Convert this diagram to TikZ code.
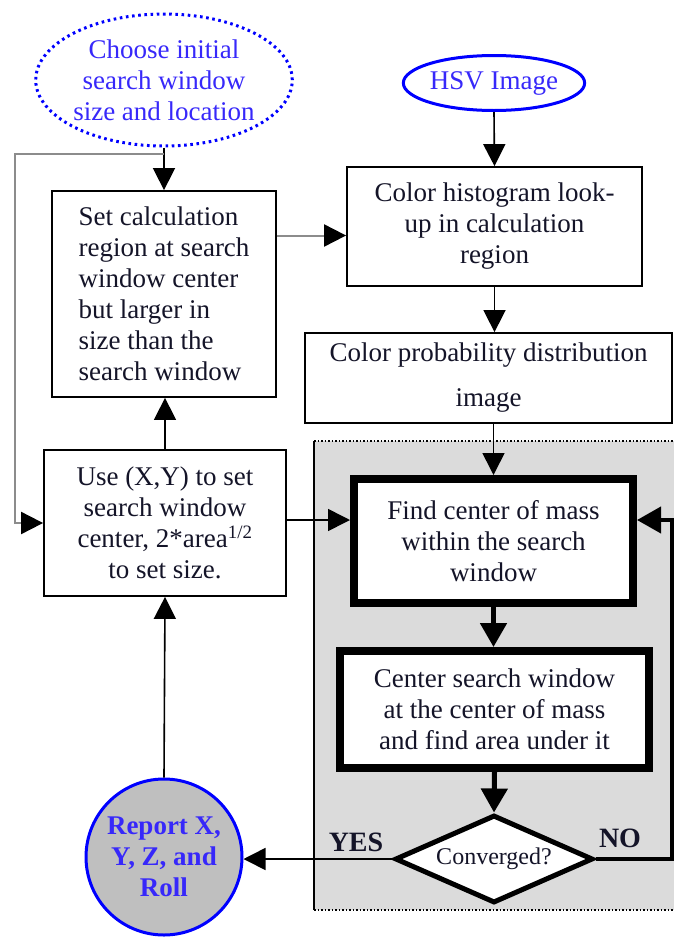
\documentclass[tikz,border=0pt]{standalone}
\usepackage{fontspec}
\setmainfont{Liberation Serif}
\usetikzlibrary{arrows.meta,shapes.geometric}
\definecolor{lblue}{RGB}{55,40,250}
\definecolor{txt}{RGB}{20,20,40}
\tikzset{
  box/.style={draw, line width=1.8pt, rectangle, inner sep=0pt, fill=white, text=txt, align=center},
  heavybox/.style={box, line width=8pt},
  tip/.style={-{Triangle[width=22pt,length=22pt]}},
  bigtip/.style={-{Triangle[width=26pt,length=24pt]}},
  link/.style={line width=1.6pt, tip},
  greylink/.style={draw=black!45, line width=2pt, -{Triangle[width=22pt,length=22pt,color=black]}},
  heavylink/.style={line width=5pt, bigtip},
  lbl/.style={font=\fontsize{28}{31}\selectfont\bfseries, text=txt, inner sep=0pt},
}
\begin{document}
\begin{tikzpicture}[x=1pt,y=-1pt,font=\fontsize{27}{31}\selectfont]
\useasboundingbox (0,0) rectangle (674,937);
\fill[white] (0,0) rectangle (674,937);

% shaded area behind the mean-shift loop
\fill[black!14] (314,441) rectangle (676,910);
\draw[line width=1.2pt] (314,441) -- (314,910);
\draw[line width=1.6pt, dash pattern=on 1.5pt off 2pt] (314,441) -- (676,441);
\draw[line width=1.6pt, dash pattern=on 1.5pt off 2pt] (314,910) -- (676,910);

% nodes
\node[ellipse, draw=blue, line width=3pt, dash pattern=on 2.6pt off 3.6pt,
      minimum width=240pt, minimum height=132pt, inner sep=0pt, text=lblue, align=center]
  (init) at (164,80) {Choose initial\\search window\\size and location};
\node[ellipse, draw=blue, line width=3pt, minimum width=163pt, minimum height=55pt,
      inner sep=0pt, text=lblue] (hsv) at (494,83) {HSV Image};

\node[box, minimum width=224pt, minimum height=206pt, align=left] (calc) at (164,294)
  {Set calculation\\region at search\\window center\\but larger in\\size than the\\search window};
\node[box, minimum width=295pt, minimum height=119pt] (hist) at (494.5,226.5)
  {Color histogram look-\\up in calculation\\region};
\node[box, minimum width=367pt, minimum height=90pt] (prob) at (488.5,378)
  {Color probability distribution\\[14pt]image};
\node[box, minimum width=242pt, minimum height=146pt] (use) at (165,523)
  {Use (X,Y) to set\\search window\\center, 2*area\textsuperscript{1/2}\\to set size.};
\node[heavybox, minimum width=279pt, minimum height=124pt] (mass) at (493.5,541)
  {Find center of mass\\within the search\\window};
\node[heavybox, minimum width=309pt, minimum height=117pt] (ctr) at (494.5,709.5)
  {Center search window\\at the center of mass\\and find area under it};
\node[diamond, draw, line width=5pt, fill=white, shape aspect=2.2,
      minimum width=198pt, minimum height=88pt,
      inner sep=0pt, text=txt, font=\fontsize{24}{28}\selectfont] (conv) at (494,859) {Converged?};
\node[circle, draw=blue, line width=3pt, fill=black!25, minimum size=156pt, inner sep=0pt,
      text=lblue, align=center, font=\fontsize{27}{31}\selectfont\bfseries] (rep) at (164,857)
  {Report X,\\Y, Z, and\\Roll};

\node[lbl] (yes) at (356,842) {YES};
\node[lbl] (no) at (620,838) {NO};

% helper points for the connectors
\coordinate (split) at (164,154);
\coordinate (leftrun) at (15,154);
\coordinate (rightrun) at (672,0);
\path ([yshift=-9pt]hist.west) coordinate (histin);
\path ([yshift=21pt]mass.east) coordinate (massin);
\path ([yshift=21pt]mass.west) coordinate (massleft);

% connectors
\draw[link] (init.south) -- (calc.north);
\draw[greylink] (split) -- (leftrun) |- (use.west);
\draw[link] (use.north) -- (use.north |- calc.south);
\draw[greylink] (calc.east |- histin) -- (histin);
\draw[link] (hsv.south) -- (hist.north);
\draw[link] (hist.south) -- (hist.south |- prob.north);
\draw[link] (mass.north |- prob.south) -- (mass.north);
\draw[heavylink] (mass.south) -- (mass.south |- ctr.north);
\draw[heavylink] (ctr.south) -- (conv.north);
\draw[line width=4pt, bigtip] (conv.east) -| (rightrun |- massin) -- (massin);
\draw[link] (conv.west) -- (conv.west -| rep.east);
\draw[link] (rep.north) -- (use.south);
\draw[link] (use.east |- massleft) -- (massleft);
\end{tikzpicture}
\end{document}
